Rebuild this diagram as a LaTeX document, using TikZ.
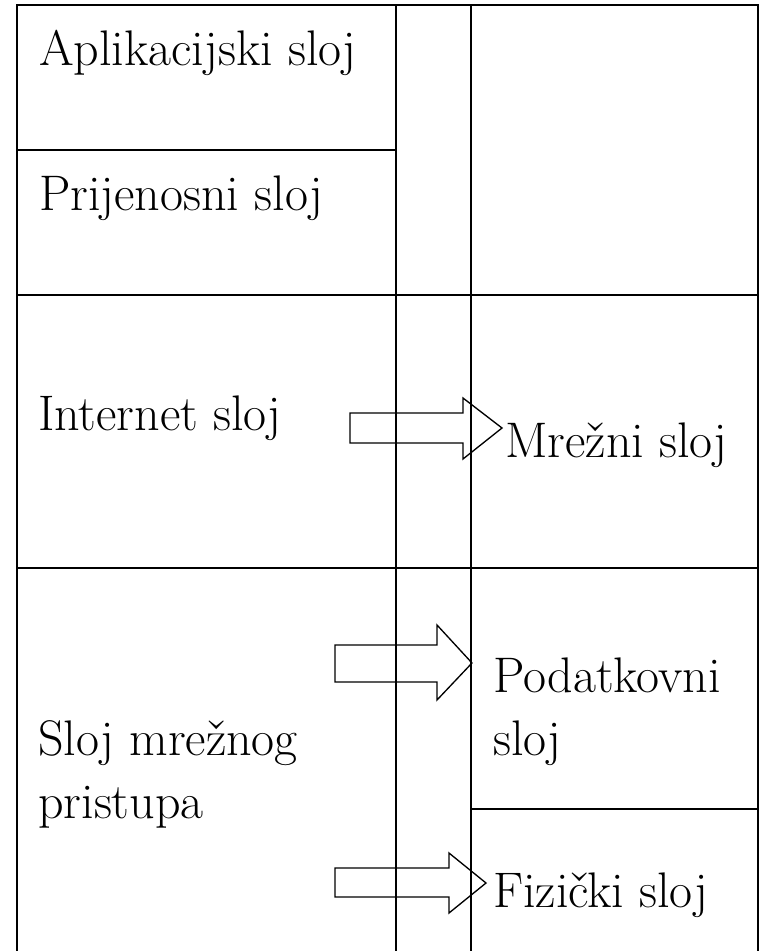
\documentclass[tikz,border=0pt]{standalone}
\usetikzlibrary{calc}
\begin{document}
\begin{tikzpicture}[x=0.75pt,y=-0.75pt,
  gridline/.style={line width=1.5pt,black},
  blockarrow/.style={line width=1pt,black,line join=miter},
  label/.style={anchor=base west,inner sep=0pt,align=left,
    font=\fontsize{37.5}{47.25}\selectfont}]
\useasboundingbox (0,0) rectangle (761,951);

% table frame and column rules (open at the bottom)
\draw[gridline] (17,951) -- (17,5) -- (758,5) -- (758,951);
\draw[gridline] (396,5) -- (396,951);
\draw[gridline] (471,5) -- (471,951);
\draw[gridline] (17,150) -- (396,150);
\draw[gridline] (17,295) -- (758,295);
\draw[gridline] (17,568) -- (758,568);
\draw[gridline] (471,809) -- (758,809);

% layer names (multi-line nodes are anchored at their last baseline)
\node[label] (app)  at (39,65)  {Aplikacijski sloj};
\node[label] (tra)  at (39,210) {Prijenosni sloj};
\node[label] (inet) at (38,430) {Internet sloj};
\node[label] (acc)  at (38,818) {Sloj mrežnog\\pristupa};
\node[label] (net)  at (505,457) {Mrežni sloj};
\node[label] (dat)  at (493,755) {Podatkovni\\sloj};
\node[label] (phy)  at (493,907) {Fizički sloj};

% block arrows mapping the layers
\draw[blockarrow] (350,413) -- (463,413) -- (463,398) -- (502,428)
  -- (463,459) -- (463,443) -- (350,443) -- cycle;
\draw[blockarrow] (335,645) -- (437,645) -- (437,625) -- (472,663)
  -- (437,700) -- (437,682) -- (335,682) -- cycle;
\draw[blockarrow] (335,868) -- (449,868) -- (449,853) -- (486,883)
  -- (449,913) -- (449,897) -- (335,897) -- cycle;
\end{tikzpicture}
\end{document}
